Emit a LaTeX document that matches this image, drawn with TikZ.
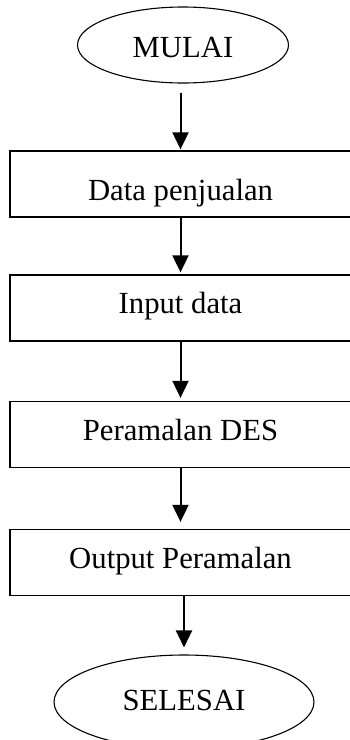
\documentclass[tikz,border=0pt]{standalone}
\usepackage{fontspec}
\setmainfont{Liberation Serif}
\usetikzlibrary{shapes.geometric,arrows.meta}

\begin{document}
\begin{tikzpicture}[x=1pt,y=-1pt,
  every node/.style={font=\fontsize{30.7pt}{36pt}\selectfont, inner sep=0pt},
  terminal/.style={ellipse, draw, line width=1.1pt},
  prosesbox/.style={rectangle, draw, line width=1.3pt, minimum width=341pt,
    minimum height=66pt, text height=20pt, text depth=9pt},
  panah/.style={line width=2pt, -{Triangle[length=17pt,width=16pt]}}]

\useasboundingbox (0,0) rectangle (349,740);

%% terminals
\node[terminal, minimum width=211pt, minimum height=76pt,
      text height=24pt, text depth=0pt] (mulai) at (183,45) {MULAI};
\node[terminal, minimum width=260pt, minimum height=94pt,
      text height=20pt, text depth=4pt] (selesai) at (184,702) {SELESAI};

%% process boxes
\node[prosesbox, text height=34pt, text depth=2pt] (data) at (180.5,184) {Data penjualan};
\node[prosesbox] (input) at (180.5,308) {Input data};
\node[prosesbox] (des) at (180.5,434.5) {Peramalan DES};
\node[prosesbox] (output) at (180.5,562.5) {Output Peramalan};

%% arrows
\draw[panah, shorten <=9pt, shorten >=1pt] (data.north |- mulai.south) -- (data.north);
\draw[panah, shorten >=2pt] (data.south) -- (input.north);
\draw[panah, shorten >=3pt] (input.south) -- (des.north);
\draw[panah, shorten >=7pt] (des.south) -- (output.north);
\draw[panah, shorten >=7pt] (selesai.north |- output.south) -- (selesai.north);
\end{tikzpicture}
\end{document}
